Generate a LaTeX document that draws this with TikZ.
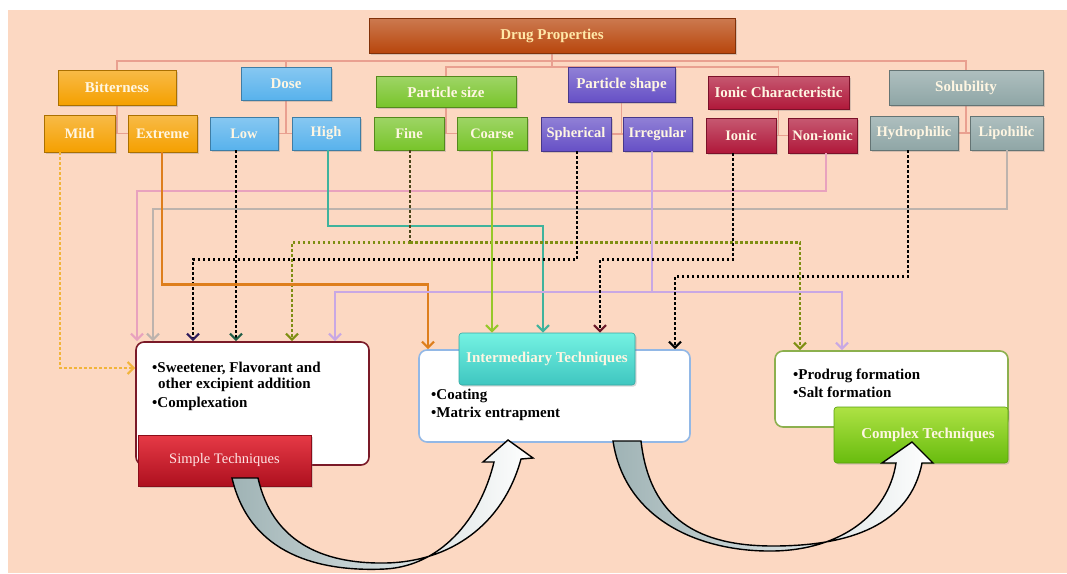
\documentclass[tikz,border=0pt]{standalone}
\usepackage{fontspec}
\setmainfont{Liberation Serif}
\usetikzlibrary{arrows.meta,shadows,backgrounds}
\definecolor{peach}{HTML}{FCD8C2}
\definecolor{treec}{HTML}{E9A090}
\definecolor{dpc}{HTML}{B8460C}
\definecolor{orgc}{HTML}{F5A000}
\definecolor{bluec}{HTML}{58B2EC}
\definecolor{grnc}{HTML}{78C42A}
\definecolor{purc}{HTML}{6650C6}
\definecolor{crimc}{HTML}{B0183A}
\definecolor{slatec}{HTML}{8FA6A6}
\definecolor{txtc}{HTML}{FFF6E2}
\definecolor{dptxt}{HTML}{FFE8A8}
\definecolor{pinkl}{HTML}{E8A2BE}
\definecolor{grayl}{HTML}{BDB3AD}
\definecolor{teall}{HTML}{3FB39C}
\definecolor{orangel}{HTML}{DE7E1C}
\definecolor{limel}{HTML}{96C82A}
\definecolor{purl}{HTML}{C8A8E4}
\definecolor{milde}{HTML}{F2B43A}
\definecolor{olivel}{HTML}{7E8E12}
\definecolor{finel}{HTML}{4A4418}
\definecolor{navyt}{HTML}{2E1C5C}
\definecolor{greent}{HTML}{1E5C45}
\definecolor{maroont}{HTML}{6A1828}
\definecolor{redtop}{HTML}{E63A46}
\definecolor{redbot}{HTML}{AE101F}
\definecolor{tealtop}{HTML}{74F2E2}
\definecolor{tealbot}{HTML}{3FC6C0}
\definecolor{limetop}{HTML}{AEE244}
\definecolor{limebot}{HTML}{68BC0E}
\definecolor{simpb}{HTML}{7A1A28}
\definecolor{intb}{HTML}{92B8E6}
\definecolor{compb}{HTML}{8CB04E}
\definecolor{arrg}{HTML}{9FB3B5}
\begin{document}
\begin{tikzpicture}[x=1pt,y=-1pt,
  pbox/.style={rectangle, inner sep=0pt, draw=#1!70!black, line width=0.6pt,
    top color=#1!72!white, bottom color=#1, text=txtc,
    font=\bfseries\fontsize{14.5}{16}\selectfont,
    drop shadow={shadow xshift=1.5pt, shadow yshift=-1.5pt, opacity=0.3}},
  big/.style={font=\bfseries\fontsize{15}{16}\selectfont},
  tree/.style={draw=treec, line width=1.6pt},
  solidc/.style={line width=2.2pt},
  dotc/.style={line width=2.5pt, dash pattern=on 2.5pt off 2.5pt},
  tipc/.style={-{Straight Barb[length=6pt,width=12pt,line width=2.2pt,color=#1]}},
  wbox/.style={rectangle, rounded corners=8pt, fill=white, line width=1.6pt, inner sep=0pt},
  body/.style={font=\bfseries\fontsize{15}{18}\selectfont, text=black, align=left, inner sep=0pt},
  bigarrow/.style={left color=arrg, right color=white, draw=black, line width=1.4pt}
]
\useasboundingbox (0,0) rectangle (1067,573);
\begin{scope}[on background layer]
\fill[white] (0,0) rectangle (1067,573);
\fill[peach] (8,10) rectangle (1067,573);
\end{scope}

% top node
\node[pbox=dpc, big, text=dptxt, minimum width=366pt, minimum height=35pt] (dp) at (552,35.5) {Drug Properties};

% level 1
\node[pbox=orgc, big, minimum width=118pt, minimum height=35pt] (bitter) at (117,87.5) {Bitterness};
\node[pbox=bluec, big, minimum width=90pt, minimum height=33pt] (dose) at (286,83.5) {Dose};
\node[pbox=grnc, big, minimum width=140pt, minimum height=31pt] (psize) at (446,92) {Particle size};
\node[pbox=purc, big, minimum width=107pt, minimum height=35pt] (pshape) at (621.5,84.5) {Particle shape};
\node[pbox=crimc, big, minimum width=141pt, minimum height=33pt] (ionch) at (778.5,92.5) {Ionic Characteristic};
\node[pbox=slatec, big, minimum width=154pt, minimum height=35pt] (solub) at (966,87.5) {Solubility};

% level 2
\node[pbox=orgc, minimum width=71pt, minimum height=37pt] (mild) at (79.5,133.5) {Mild};
\node[pbox=orgc, minimum width=69pt, minimum height=37pt] (extreme) at (162.5,133.5) {Extreme};
\node[pbox=bluec, minimum width=68pt, minimum height=33pt] (low) at (244,133.5) {Low};
\node[pbox=bluec, minimum width=68pt, minimum height=33pt] (high) at (326,133.5) {High};
\node[pbox=grnc, minimum width=70pt, minimum height=33pt] (fine) at (409,133.5) {Fine};
\node[pbox=grnc, minimum width=70pt, minimum height=33pt] (coarse) at (492,133.5) {Coarse};
\node[pbox=purc, minimum width=70pt, minimum height=34pt] (spher) at (576,134) {Spherical};
\node[pbox=purc, minimum width=69pt, minimum height=34pt] (irreg) at (657.5,134) {Irregular};
\node[pbox=crimc, minimum width=70pt, minimum height=35pt] (ionic) at (741,135.5) {Ionic};
\node[pbox=crimc, minimum width=69pt, minimum height=35pt] (nonionic) at (822.5,135.5) {Non-ionic};
\node[pbox=slatec, minimum width=88pt, minimum height=34pt] (hydro) at (914,133) {Hydrophilic};
\node[pbox=slatec, minimum width=73pt, minimum height=34pt] (lipo) at (1006.5,133) {Lipohilic};

% tree lines
\begin{scope}[on background layer]
\draw[tree] (bitter.north) -- ++(0,-9) -| (solub.north);
\draw[tree] (dose.north) -- ++(0,-6);
\draw[tree] (dp.south) -- ++(0,15);
\draw[tree] (psize.north) -- ++(0,-9) -| (ionch.north);
\draw[tree] (pshape.north) -- ++(0,-1);
\draw[tree] (bitter.south) -- ++(0,28);
\draw[tree] (dose.south) -- ++(0,33);
\draw[tree] (psize.south) -- ++(0,26);
\draw[tree] (pshape.south) -- ++(0,32);
\draw[tree] (ionch.south) -- ++(0,26);
\draw[tree] (solub.south) -- ++(0,28);
\draw[tree] (mild.east) -- (extreme.west);
\draw[tree] (low.east) -- (high.west);
\draw[tree] (fine.east) -- (coarse.west);
\draw[tree] (spher.east) -- (irreg.west);
\draw[tree] (ionic.east) -- (nonionic.west);
\draw[tree] (hydro.east) -- (lipo.west);
\end{scope}

% lower boxes
\node[wbox, draw=simpb, minimum width=233pt, minimum height=123pt] (simple) at (252.5,403.5) {};
\node[pbox=redbot, top color=redtop, bottom color=redbot, draw=redbot!80!black,
      font=\fontsize{14.5}{16}\selectfont, text=pink!40!white,
      minimum width=173pt, minimum height=51pt] (simplet) at (224.5,460.5) {Simple Techniques};
\node[wbox, draw=intb, minimum width=271pt, minimum height=92pt] (interm) at (554.5,396) {};
\node[pbox=tealbot, top color=tealtop, bottom color=tealbot, draw=tealbot!85!black, big,
      minimum width=176pt, minimum height=52pt, rounded corners=3pt] (intt) at (547,359) {Intermediary Techniques};
\node[wbox, draw=compb, minimum width=233pt, minimum height=76pt] (complex) at (891.5,389) {};
\node[pbox=limebot, top color=limetop, bottom color=limebot, draw=limebot!85!black, big,
      minimum width=174pt, minimum height=56pt, rounded corners=3pt] (compt) at (921,435) {\hspace{14pt}Complex Techniques};

\node[body, anchor=north west] (stxt) at (152,362) {•Sweetener, Flavorant and\\[-2.5pt]\hspace{6pt}other excipient addition\\[1pt]•Complexation};
\node[body, anchor=north west] (itxt) at (431,389) {•Coating\\•Matrix entrapment};
\node[body, anchor=north west] (ctxt) at (793,369) {•Prodrug formation\\•Salt formation};

% connectors
\draw[solidc, pinkl, tipc=pinkl] ([xshift=3.5pt]nonionic.south) -- ++(0,38) -| ([xshift=-115.5pt]simple.north);
\draw[solidc, grayl, tipc=grayl] ([xshift=0.5pt]lipo.south) -- ++(0,59) -| ([xshift=-99.5pt]simple.north);
\draw[solidc, teall, tipc=teall] ([xshift=2pt]high.south) -- ++(0,76) -| ([xshift=-4pt]intt.north);
\draw[dotc, finel] ([xshift=1pt]fine.south) -- ++(0,92) coordinate (fj);
\draw[dotc, olivel, tipc=olivel] (fj) -| ([xshift=39.5pt]simple.north);
\draw[dotc, olivel, tipc=olivel] (fj) -| ([xshift=-91.5pt]complex.north);
\draw[dotc, black, tipc=navyt] ([xshift=1pt]spher.south) -- ++(0,108) -| ([xshift=-59.5pt]simple.north);
\draw[dotc, black, tipc=greent] ([xshift=-8pt]low.south) -- ([xshift=-16.5pt]simple.north);
\draw[solidc, orangel, line width=2.6pt, tipc=orangel] ([xshift=-0.5pt]extreme.south) -- ++(0,132) -| ([xshift=-126.5pt]interm.north);
\draw[solidc, purl] ([xshift=-5.5pt]irreg.south) -- ++(0,141) coordinate (ij);
\draw[solidc, purl, tipc=purl] (ij) -| ([xshift=82.5pt]simple.north);
\draw[solidc, purl, tipc=purl] (ij) -| ([xshift=-49.5pt]complex.north);
\draw[solidc, limel, tipc=limel] (coarse.south) -- ([xshift=-55pt]intt.north);
\draw[dotc, black, tipc=maroont] ([xshift=-8pt]ionic.south) -- ++(0,106) -| ([xshift=53pt]intt.north);
\draw[dotc, black, tipc=black] ([xshift=-6pt]hydro.south) -- ++(0,126) -| ([xshift=120.5pt]interm.north);
\draw[dotc, milde, tipc=milde] ([xshift=-19.5pt]mild.south) |- ([yshift=35.5pt]simple.west);

% big curved arrows
\path[bigarrow] (232,478) .. controls (250,555) and (320,572) .. (385,569)
  .. controls (440,566) and (480,520) .. (494,462)
  -- (483,462) -- (508,440) -- (533,458) -- (521,459)
  .. controls (503,525) and (450,562) .. (385,563)
  .. controls (320,564) and (272,540) .. (258,478) -- cycle;
\path[bigarrow] (613,441) .. controls (625,520) and (700,552) .. (773,551)
  .. controls (840,550) and (888,515) .. (896,463)
  -- (882,463) -- (912,442) -- (933,463) -- (922,463)
  .. controls (910,525) and (850,546) .. (773,546)
  .. controls (700,546) and (650,520) .. (641,441) -- cycle;
\end{tikzpicture}
\end{document}
